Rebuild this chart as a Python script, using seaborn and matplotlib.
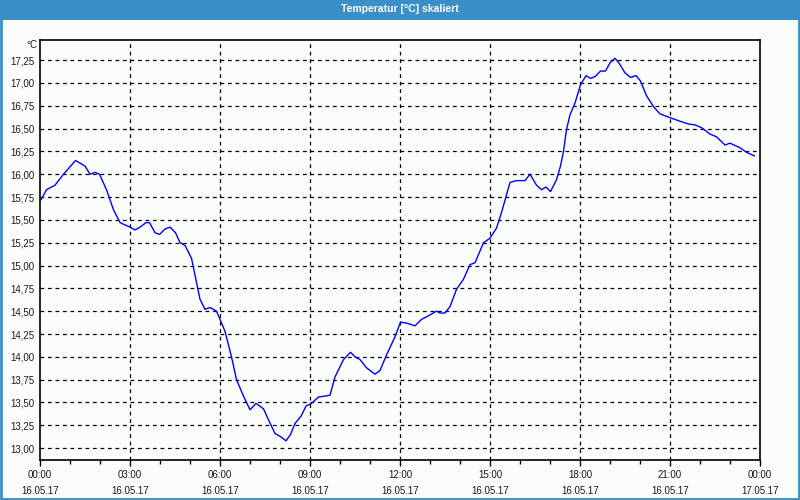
import matplotlib
matplotlib.use("Agg")
import matplotlib.pyplot as plt
from matplotlib.patches import Rectangle
from matplotlib.ticker import FixedLocator, MultipleLocator, FuncFormatter
import seaborn as sns
import pandas as pd

# minutes since 16.05.17 00:00
minutes = [2, 13, 30, 47, 71, 90, 100, 110, 119, 133, 147, 160, 180, 190, 200, 212, 219, 230, 239,
           250, 260, 271, 280, 290, 303, 320, 330, 340, 353, 370, 383, 393, 407, 420, 432, 447, 457,
           470, 480, 492, 501, 510, 522, 532, 543, 557, 570, 580, 590, 607, 621, 630, 640, 653, 670,
           680, 693, 710, 721, 733, 750, 763, 777, 793, 800, 810, 820, 833, 847, 860, 870, 887, 900,
           913, 923, 940, 953, 970, 980, 993, 1003, 1012, 1021, 1033, 1041, 1047, 1053, 1060, 1070,
           1081, 1092, 1101, 1110, 1121, 1131, 1140, 1150, 1159, 1170, 1181, 1192, 1201, 1213, 1227,
           1240, 1260, 1280, 1297, 1310, 1323, 1340, 1353, 1370, 1380, 1400, 1413, 1429]
temps = [15.72, 15.83, 15.88, 16.00, 16.15, 16.09, 16.00, 16.02, 16.00, 15.83, 15.61, 15.47, 15.42,
         15.39, 15.42, 15.47, 15.47, 15.36, 15.34, 15.40, 15.42, 15.36, 15.25, 15.22, 15.08, 14.63,
         14.52, 14.54, 14.50, 14.28, 14.00, 13.75, 13.57, 13.42, 13.49, 13.43, 13.31, 13.16, 13.13,
         13.08, 13.15, 13.27, 13.35, 13.46, 13.49, 13.56, 13.57, 13.58, 13.78, 13.97, 14.05, 14.00,
         13.97, 13.88, 13.81, 13.85, 14.02, 14.22, 14.38, 14.37, 14.34, 14.41, 14.45, 14.50, 14.48,
         14.48, 14.55, 14.74, 14.85, 15.01, 15.03, 15.25, 15.30, 15.41, 15.58, 15.91, 15.93, 15.93,
         16.00, 15.88, 15.83, 15.86, 15.81, 15.94, 16.09, 16.25, 16.49, 16.65, 16.78, 16.98, 17.08,
         17.05, 17.07, 17.13, 17.13, 17.22, 17.27, 17.21, 17.11, 17.06, 17.08, 17.02, 16.86, 16.74,
         16.66, 16.62, 16.58, 16.55, 16.54, 16.51, 16.44, 16.41, 16.32, 16.34, 16.29, 16.24, 16.20]

x_tick_times = ["00:00", "03:00", "06:00", "09:00", "12:00", "15:00", "18:00", "21:00", "00:00"]
x_tick_dates = ["16.05.17"] * 8 + ["17.05.17"]
y_ticks = [13.00, 13.25, 13.50, 13.75, 14.00, 14.25, 14.50, 14.75, 15.00, 15.25, 15.50, 15.75,
           16.00, 16.25, 16.50, 16.75, 17.00, 17.25]

title = "Temperatur [°C] skaliert"
unit = "°C"

sns.set_theme(style="white")
plt.rcParams['font.family'] = ['Liberation Sans', 'DejaVu Sans']

bg = "#fbfdfb"
fig = plt.figure(figsize=(8, 5), dpi=100, facecolor=bg)
ax = fig.add_axes([0.05, 0.08, 0.90, 0.84])
ax.set_facecolor(bg)

df = pd.DataFrame({"min": minutes, "temp": temps})
sns.lineplot(data=df, x="min", y="temp", ax=ax, color="#0000ff", linewidth=1.0)

ax.set_xlim(0, 1440)
ax.set_ylim(12.87, 17.47)

major_x = [i * 180 for i in range(len(x_tick_times))]
ax.xaxis.set_major_locator(FixedLocator(major_x))
ax.xaxis.set_minor_locator(MultipleLocator(60))
ax.set_xticklabels([f"{t}\n{d}" for t, d in zip(x_tick_times, x_tick_dates)],
                   fontsize=7, linespacing=1.75)
ax.yaxis.set_major_locator(FixedLocator(y_ticks))
ax.yaxis.set_major_formatter(FuncFormatter(lambda v, p: f"{v:.2f}".replace(".", ",")))
ax.tick_params(axis="x", which="major", direction="out", length=4, width=1, color="black",
               pad=3, labelcolor="#1a1a1a", bottom=True)
ax.tick_params(axis="x", which="minor", direction="out", length=3, width=1, color="black",
               bottom=True)
ax.tick_params(axis="y", length=0, pad=4, labelsize=7, labelcolor="#1a1a1a")
ax.set_xlabel("")
ax.set_ylabel("")

for v in y_ticks:
    ax.axhline(v, color="black", linestyle=(0, (3, 3)), linewidth=0.9, zorder=0)
for m in major_x[1:-1]:
    ax.axvline(m, color="black", linestyle=(0, (3, 3)), linewidth=0.9, zorder=0)

for s in ax.spines.values():
    s.set_visible(True)
    s.set_color("black")
    s.set_linewidth(1.2)

ax.text(-0.004, 1.0, unit, transform=ax.transAxes, ha="right", va="top", fontsize=7,
        color="#1a1a1a")

# title bar and frame
fig.patches.append(Rectangle((0, 0.96), 1, 0.04, transform=fig.transFigure,
                             facecolor="#3a8fc8", edgecolor="none", zorder=0))
fig.patches.append(Rectangle((0.001, 0.002), 0.998, 0.996, transform=fig.transFigure,
                             facecolor="none", edgecolor="#3a8fc8", linewidth=2, zorder=1))
fig.text(0.5, 0.981, title, ha="center", va="center", color="white", fontsize=7.5,
         fontweight="bold")

fig.savefig("out.png", dpi=100, facecolor=bg)
